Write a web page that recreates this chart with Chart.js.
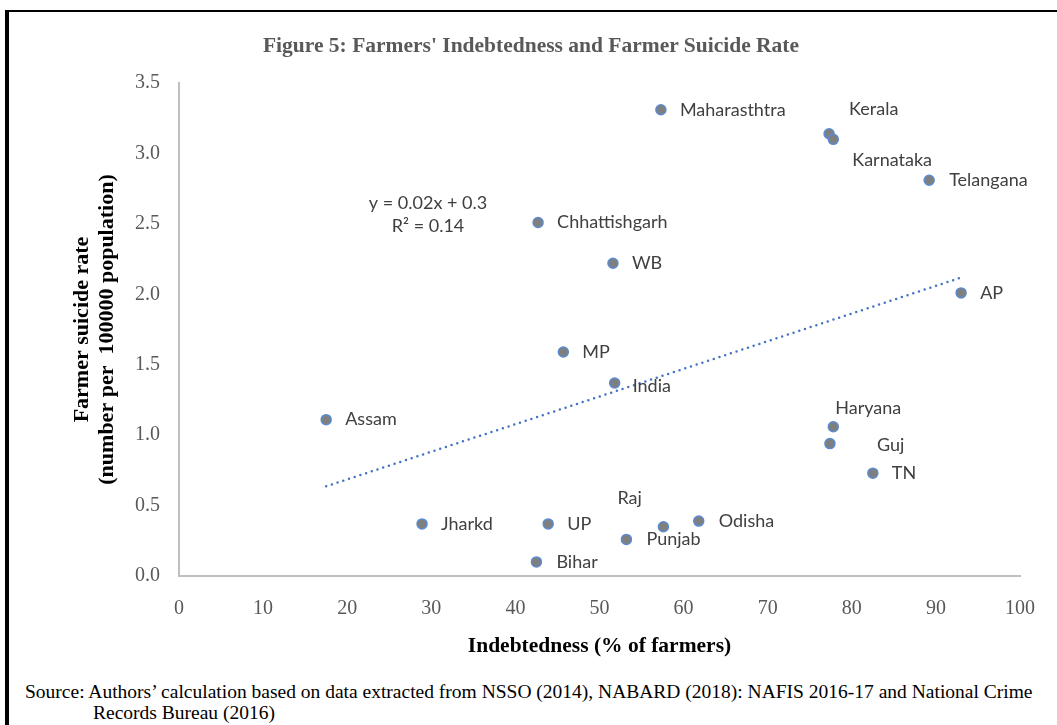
<!DOCTYPE html>
<html>
<head>
<meta charset="utf-8">
<script src="https://cdn.jsdelivr.net/npm/chart.js@4/dist/chart.umd.min.js"></script>
<style>
  html, body { margin: 0; padding: 0; background: #fff; }
  #page { position: relative; width: 1057px; height: 725px; overflow: hidden; }
  #frame {
    position: absolute; left: 5px; top: 10px; right: -10px; bottom: -10px;
    border-left: 4px solid #000; border-top: 2px solid #000;
  }
  #fig-title {
    position: absolute; left: 0; top: 33px; width: 1062px; text-align: center;
    font: bold 21.5px 'Liberation Serif', 'Times New Roman', serif; color: #595959;
    line-height: 24px;
  }
  #chart-wrap { position: absolute; left: 0; top: 0; width: 1057px; height: 670px; }
  .source {
    position: absolute; font: 19.5px 'Liberation Serif', 'Times New Roman', serif;
    color: #000; white-space: nowrap; line-height: 22px;
  }
</style>
</head>
<body>
<div id="page">
  <div id="frame"></div>
  <div id="chart-wrap"><canvas id="scatter"></canvas></div>
  <div id="fig-title">Figure 5: Farmers' Indebtedness and Farmer Suicide Rate</div>
  <div class="source" style="left:25px; top:681px;">Source: Authors’ calculation based on data extracted from NSSO (2014), NABARD (2018): NAFIS 2016-17 and National Crime</div>
  <div class="source" style="left:93px; top:702px;">Records Bureau (2016)</div>
</div>
<script>
const STATES = ['Maharasthtra', 'Kerala', 'Karnataka', 'Telangana', 'AP', 'Chhattishgarh', 'WB', 'MP', 'India',
  'Assam', 'Haryana', 'Guj', 'TN', 'Jharkd', 'UP', 'Bihar', 'Punjab', 'Raj', 'Odisha'];
// indebtedness, % of farmer households
const INDEBTED = [57.3, 77.3, 77.8, 89.2, 93.0, 42.7, 51.6, 45.7, 51.8,
  17.5, 77.8, 77.4, 82.5, 28.9, 43.9, 42.5, 53.2, 57.6, 61.8];
// farmer suicides per 100000
const SUICIDE_RATE = [3.31, 3.14, 3.10, 2.81, 2.01, 2.51, 2.22, 1.59, 1.37,
  1.11, 1.06, 0.94, 0.73, 0.37, 0.37, 0.10, 0.26, 0.35, 0.39];

const X_TICK_STEP = 10;
const Y_TICK_STEP = 0.5;

// label placement relative to each dot: [dx to text start, dy to text middle]
const LABEL_OFFSETS = [
  [19, 0], [20, -25], [19, 21], [20, 0], [19, 0], [19, 0], [19, 0], [19, 0], [18, 3],
  [19, 0], [2, -19], [47, 2], [19, 0], [19, 0], [19, 0], [20, 0], [20, 0], [-46, -29], [20, 0]
];

function linearFit(xs, ys) {
  const n = xs.length;
  const mx = xs.reduce((a, b) => a + b, 0) / n;
  const my = ys.reduce((a, b) => a + b, 0) / n;
  let sxy = 0, sxx = 0, syy = 0;
  for (let i = 0; i < n; i++) {
    sxy += (xs[i] - mx) * (ys[i] - my);
    sxx += (xs[i] - mx) ** 2;
    syy += (ys[i] - my) ** 2;
  }
  const slope = sxy / sxx;
  return { slope, intercept: my - slope * mx, r2: (sxy * sxy) / (sxx * syy) };
}

const fit = linearFit(INDEBTED, SUICIDE_RATE);
const xMin = Math.min(...INDEBTED);
const xMax = Math.max(...INDEBTED);
const trendPoints = [
  { x: xMin, y: fit.intercept + fit.slope * xMin },
  { x: xMax, y: fit.intercept + fit.slope * xMax },
];

const LABEL_FONT = "18px Lato, 'Open Sans', sans-serif";
const SERIF = "'Liberation Serif', 'Times New Roman', serif";

const pointLabels = {
  id: 'pointLabels',
  afterDatasetsDraw(chart) {
    const ctx = chart.ctx;
    const meta = chart.getDatasetMeta(0);
    ctx.save();
    ctx.font = LABEL_FONT;
    ctx.fillStyle = '#404040';
    ctx.textAlign = 'left';
    ctx.textBaseline = 'middle';
    meta.data.forEach((pt, i) => {
      const [dx, dy] = LABEL_OFFSETS[i];
      ctx.fillText(STATES[i], pt.x + dx, pt.y + dy);
    });

    // regression equation
    const area = chart.chartArea;
    const ex = area.left + 249;
    const ey = area.top + 120;
    ctx.textAlign = 'center';
    ctx.fillText(`y = ${fit.slope.toFixed(2)}x + ${fit.intercept.toFixed(1)}`, ex, ey);
    ctx.fillText(`R² = ${fit.r2.toFixed(2)}`, ex, ey + 23);
    ctx.restore();
  }
};

new Chart(document.getElementById('scatter'), {
  type: 'scatter',
  data: {
    datasets: [
      {
        label: 'States',
        data: INDEBTED.map((x, i) => ({ x, y: SUICIDE_RATE[i] })),
        backgroundColor: '#7f7f7f',
        borderColor: '#5b8bd0',
        borderWidth: 1.5,
        pointRadius: 5,
        pointHoverRadius: 5,
        order: 0,
      },
      {
        type: 'line',
        label: 'Linear trend',
        data: trendPoints,
        borderColor: '#4472c4',
        borderWidth: 2.5,
        borderDash: [0, 6],
        borderCapStyle: 'round',
        pointRadius: 0,
        fill: false,
        order: 1,
      },
    ],
  },
  options: {
    responsive: true,
    maintainAspectRatio: false,
    animation: false,
    layout: { padding: { top: 83, right: 37, bottom: 0, left: 0 } },
    plugins: {
      legend: { display: false },
      tooltip: { enabled: false },
    },
    scales: {
      x: {
        type: 'linear',
        min: 0,
        max: 100,
        afterFit: scale => { scale.height = 94; },
        ticks: {
          stepSize: X_TICK_STEP,
          padding: 21,
          color: '#595959',
          font: { family: SERIF, size: 20 },
        },
        grid: { display: false, drawTicks: false },
        border: { color: '#bfbfbf', width: 2 },
        title: {
          display: true,
          text: 'Indebtedness (% of farmers)',
          color: '#000',
          font: { family: SERIF, size: 21.5, weight: 'bold' },
          padding: { top: 0, bottom: 11 },
        },
      },
      y: {
        type: 'linear',
        min: 0,
        max: 3.5,
        afterFit: scale => { scale.width = 179; },
        ticks: {
          stepSize: Y_TICK_STEP,
          padding: 19,
          color: '#595959',
          font: { family: SERIF, size: 20 },
          callback: v => v.toFixed(1),
        },
        grid: { display: false, drawTicks: false },
        border: { color: '#bfbfbf', width: 2 },
        title: {
          display: true,
          text: ['Farmer suicide rate', '(number per  100000 population)'],
          color: '#000',
          font: { family: SERIF, size: 22, weight: 'bold', lineHeight: '25px' },
          padding: { top: 70, bottom: 0 },
        },
      },
    },
  },
  plugins: [pointLabels],
});
</script>
</body>
</html>
